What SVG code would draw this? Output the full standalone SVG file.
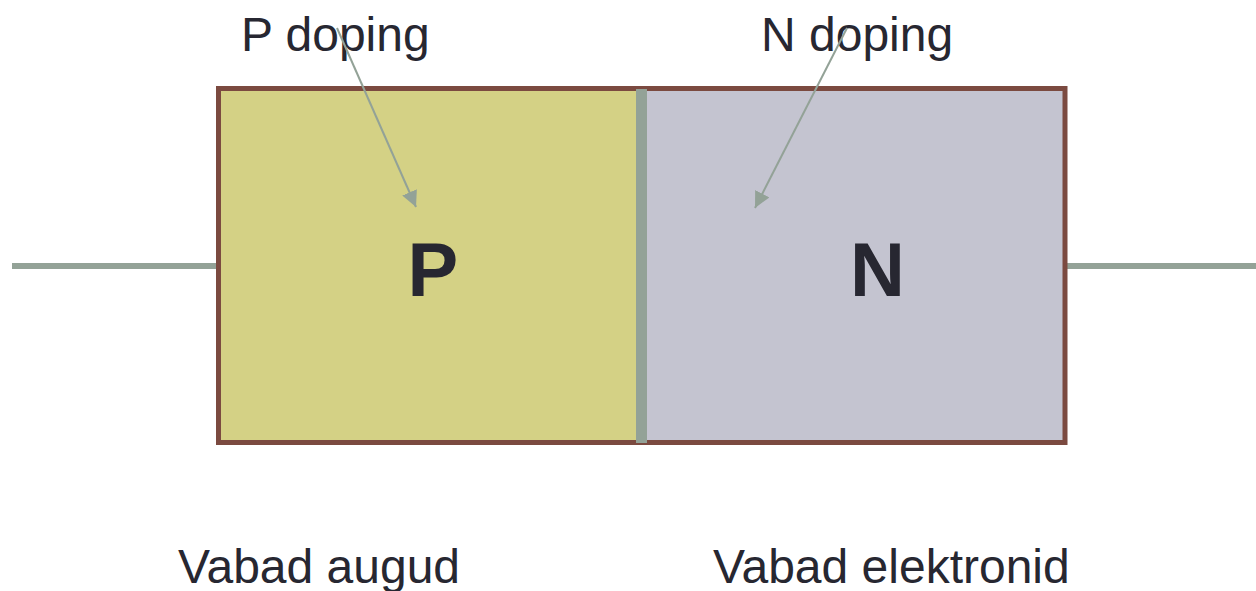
<svg xmlns="http://www.w3.org/2000/svg" width="1256" height="591" viewBox="0 0 1256 591">
<style>
.lbl{font-family:"Liberation Sans",Arial,sans-serif;font-size:48px;fill:#272731}
.big{font-family:"Liberation Sans",Arial,sans-serif;font-size:76px;font-weight:bold;fill:#272731}
.lead{stroke:#93A297;stroke-width:6;fill:none}
.ptr{stroke:#93A297;stroke-width:2;fill:none}
</style>
<defs>
<marker id="ah" viewBox="0 0 10 10" refX="10" refY="5" markerWidth="8" markerHeight="8" markerUnits="strokeWidth" orient="auto">
<path d="M0,0 L10,5 L0,10 Z" fill="#93A297"/>
</marker>
</defs>
<g id="leads">
<line class="lead" x1="12" y1="266" x2="217" y2="266"/>
<line class="lead" x1="1066" y1="266" x2="1256" y2="266"/>
</g>
<g id="p-region">
<rect x="218.5" y="88.5" width="423" height="354" fill="#D4D185"/>
<text class="big" x="407.5" y="296">P</text>
</g>
<g id="n-region">
<rect x="641.5" y="88.5" width="423.5" height="354" fill="#C4C4D0"/>
<text class="big" x="850" y="296">N</text>
</g>
<g id="body">
<rect x="218.5" y="88.5" width="846.5" height="354" fill="none" stroke="#7B4A40" stroke-width="5"/>
<line x1="641.5" y1="89" x2="641.5" y2="443" stroke="#93A297" stroke-width="11"/>
</g>
<g id="p-doping">
<text class="lbl" x="241" y="51">P doping</text>
</g>
<g id="n-doping">
<text class="lbl" x="761" y="51">N doping</text>
</g>
<g id="connectors">
<line class="ptr" x1="337" y1="28" x2="416" y2="207" marker-end="url(#ah)"/>
<line class="ptr" x1="847" y1="28" x2="755" y2="208" marker-end="url(#ah)"/>
</g>
<g id="captions">
<text class="lbl" x="178" y="583">Vabad augud</text>
<text class="lbl" x="713" y="583">Vabad elektronid</text>
</g>
</svg>
